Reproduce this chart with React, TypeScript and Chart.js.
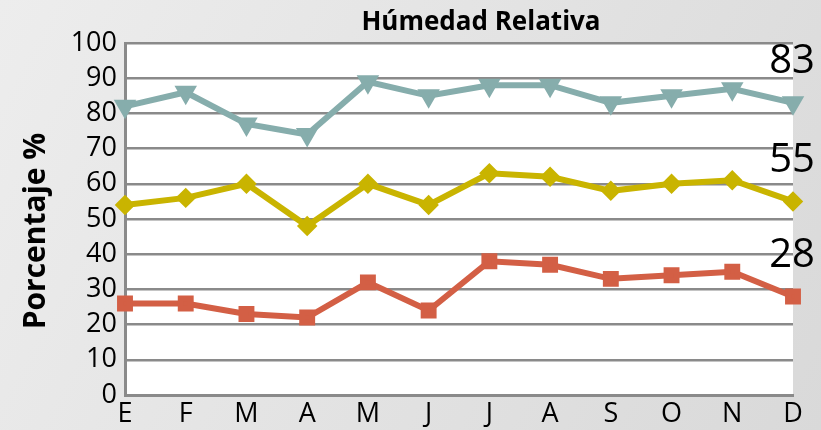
import React, { useEffect, useRef } from "react";
import { Chart, registerables } from "chart.js";

Chart.register(...registerables);

const months = ["E", "F", "M", "A", "M", "J", "J", "A", "S", "O", "N", "D"];
const humedadMax = [82, 86, 77, 74, 89, 85, 88, 88, 83, 85, 87, 83];
const humedadMedia = [54, 56, 60, 48, 60, 54, 63, 62, 58, 60, 61, 55];
const humedadMin = [26, 26, 23, 22, 32, 24, 38, 37, 33, 34, 35, 28];
const yStep = 10;
const chartTitle = "Húmedad Relativa";
const yTitle = "Porcentaje %";

const FONT = "'Open Sans', 'DejaVu Sans', sans-serif";

const bgPlugin = {
  id: "bgPlugin",
  beforeDraw(chart: any) {
    const { ctx, width, height, chartArea } = chart;
    ctx.save();
    const g = ctx.createLinearGradient(0, 0, width, height);
    g.addColorStop(0, "#ededed");
    g.addColorStop(1, "#d9d9d9");
    ctx.fillStyle = g;
    ctx.fillRect(0, 0, width, height);
    ctx.fillStyle = "#ffffff";
    ctx.fillRect(chartArea.left, chartArea.top, chartArea.right - chartArea.left, chartArea.bottom - chartArea.top);
    ctx.restore();
  },
  afterDraw(chart: any) {
    const { ctx } = chart;
    ctx.save();
    ctx.fillStyle = "#000";
    ctx.font = `bold 26px ${FONT}`;
    ctx.textAlign = "center";
    ctx.textBaseline = "middle";
    ctx.fillText(chartTitle, 481, 23);
    ctx.translate(36, 231);
    ctx.rotate(-Math.PI / 2);
    ctx.font = `bold 30px ${FONT}`;
    ctx.fillText(yTitle, 0, 0);
    ctx.restore();
    ctx.save();
    ctx.fillStyle = "#000";
    ctx.font = `40px ${FONT}`;
    ctx.textAlign = "center";
    ctx.textBaseline = "middle";
    chart.data.datasets.forEach((ds: any, i: number) => {
      const meta = chart.getDatasetMeta(i);
      const last = meta.data[meta.data.length - 1];
      const v = ds.data[ds.data.length - 1];
      ctx.fillText(String(v), last.x - 1, last.y - 41);
    });
    ctx.restore();
  },
};

export default function App() {
  const ref = useRef<HTMLCanvasElement | null>(null);
  useEffect(() => {
    document.body.style.margin = "0";
    const chart = new Chart(ref.current as HTMLCanvasElement, {
      type: "line",
      data: {
        labels: months,
        datasets: [
          {
            label: "Máxima",
            data: humedadMax,
            borderColor: "#86adac",
            backgroundColor: "#86adac",
            borderWidth: 6,
            pointStyle: "triangle",
            rotation: 180,
            pointRadius: 7,
            tension: 0,
          },
          {
            label: "Media",
            data: humedadMedia,
            borderColor: "#c9b400",
            backgroundColor: "#c9b400",
            borderWidth: 6,
            pointStyle: "rectRot",
            pointRadius: 6,
            tension: 0,
          },
          {
            label: "Mínima",
            data: humedadMin,
            borderColor: "#d35f45",
            backgroundColor: "#d35f45",
            borderWidth: 6,
            pointStyle: "rect",
            pointRadius: 7,
            tension: 0,
          },
        ] as any,
      },
      options: {
        animation: false,
        responsive: false,
        maintainAspectRatio: false,
        layout: { padding: { left: 0, right: 28, top: 43, bottom: 0 } },
        plugins: {
          legend: { display: false },
          title: { display: false },
          tooltip: { enabled: false },
        },
        scales: {
          x: {
            offset: false,
            grid: { display: false, drawTicks: false },
            border: { display: true, color: "#8a8a8a", width: 3 },
            ticks: {
              color: "#000",
              font: { family: FONT, size: 27 },
              padding: 3,
              maxRotation: 0,
              autoSkip: false,
            },
            afterFit: (s: any) => {
              s.height = 35;
            },
          },
          y: {
            min: 0,
            max: 100,
            grid: { color: "#8a8a8a", lineWidth: 2.5, drawTicks: false },
            border: { display: true, color: "#8a8a8a", width: 3 },
            ticks: {
              stepSize: yStep,
              autoSkip: false,
              color: "#000",
              font: { family: FONT, size: 27 },
              padding: 8,
            },
            afterFit: (s: any) => {
              s.width = 125;
            },
          },
        },
      },
      plugins: [bgPlugin],
    });
    return () => chart.destroy();
  }, []);
  return (
    <div style={{ position: "fixed", left: 0, top: 0, width: 821, height: 430 }}>
      <canvas ref={ref} width={821} height={430} style={{ display: "block" }} />
    </div>
  );
}
